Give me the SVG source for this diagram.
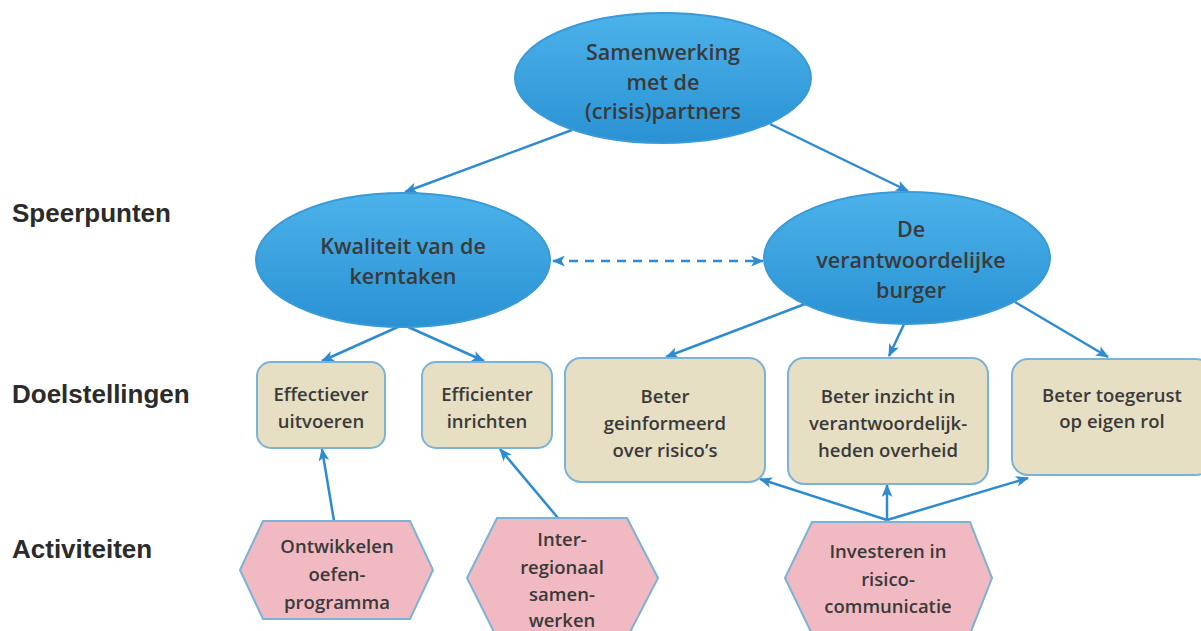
<svg xmlns="http://www.w3.org/2000/svg" width="1201" height="631" viewBox="0 0 1201 631">
  <defs>
    <linearGradient id="blueFill" x1="0" y1="0" x2="0" y2="1">
      <stop offset="0" stop-color="#4cb2ea"/>
      <stop offset="1" stop-color="#2a92d4"/>
    </linearGradient>
    <marker id="arr" viewBox="0 0 12 10" refX="11" refY="5" markerWidth="13" markerHeight="11" orient="auto-start-reverse" markerUnits="userSpaceOnUse">
      <path d="M0,0 L12,5 L0,10 L3,5 Z" fill="#2e8bd0"/>
    </marker>
    <style>
      .oval { fill: url(#blueFill); stroke: #3a9ad6; stroke-width: 2; }
      .goal { fill: #e7dfc4; stroke: #7ab3d6; stroke-width: 2; }
      .act { fill: #f1b9c2; stroke: #7ab3d6; stroke-width: 2; }
      .lbl { font-family: "Liberation Sans", Arial, sans-serif; font-weight: bold; font-size: 26px; fill: #2b2b2b; }
      .t { font-family: "Open Sans", "Liberation Sans", sans-serif; font-weight: 600; fill: #3a3a3a; text-anchor: middle; }
      .big { font-size: 21.5px; }
      .sm { font-size: 18.5px; }
      .conn { fill: none; stroke: #2e8bd0; stroke-width: 2.5; }
      .dash { stroke-dasharray: 9 7; }
    </style>
  </defs>

  <rect width="1201" height="631" fill="#ffffff"/>

  <!-- row labels -->
  <g id="labels">
    <text class="lbl" x="12" y="222">Speerpunten</text>
    <text class="lbl" x="12" y="403">Doelstellingen</text>
    <text class="lbl" x="12" y="558">Activiteiten</text>
  </g>

  <!-- connectors -->
  <g id="connectors">
    <line class="conn" x1="572" y1="130" x2="405" y2="192" marker-end="url(#arr)"/>
    <line class="conn" x1="770" y1="124" x2="908" y2="191" marker-end="url(#arr)"/>
    <line class="conn dash" x1="553" y1="261" x2="763" y2="261" marker-start="url(#arr)" marker-end="url(#arr)"/>
    <line class="conn" x1="400" y1="326" x2="322" y2="361" marker-end="url(#arr)"/>
    <line class="conn" x1="406" y1="326" x2="484" y2="361" marker-end="url(#arr)"/>
    <line class="conn" x1="805" y1="304" x2="666" y2="357" marker-end="url(#arr)"/>
    <line class="conn" x1="905" y1="322" x2="889" y2="356" marker-end="url(#arr)"/>
    <line class="conn" x1="1015" y1="302" x2="1108" y2="357" marker-end="url(#arr)"/>
    <line class="conn" x1="334" y1="521" x2="322" y2="449" marker-end="url(#arr)"/>
    <line class="conn" x1="558" y1="518" x2="500" y2="449" marker-end="url(#arr)"/>
    <line class="conn" x1="887" y1="520" x2="760" y2="479" marker-end="url(#arr)"/>
    <line class="conn" x1="887" y1="520" x2="887" y2="485" marker-end="url(#arr)"/>
    <line class="conn" x1="887" y1="520" x2="1028" y2="478" marker-end="url(#arr)"/>
  </g>

  <!-- focus points -->
  <g id="samenwerking">
    <ellipse class="oval" cx="663" cy="78" rx="148" ry="65"/>
    <text class="t big" x="663" y="60">Samenwerking</text>
    <text class="t big" x="663" y="90">met de</text>
    <text class="t big" x="663" y="119">(crisis)partners</text>
  </g>
  <g id="kwaliteit">
    <ellipse class="oval" cx="403" cy="260" rx="147" ry="67"/>
    <text class="t big" x="403" y="254">Kwaliteit van de</text>
    <text class="t big" x="403" y="284">kerntaken</text>
  </g>
  <g id="burger">
    <ellipse class="oval" cx="907" cy="258" rx="143" ry="66"/>
    <text class="t big" x="911" y="237">De</text>
    <text class="t big" x="911" y="268">verantwoordelijke</text>
    <text class="t big" x="911" y="298">burger</text>
  </g>

  <!-- goals -->
  <g id="effectiever">
    <rect class="goal" x="257" y="362" width="128" height="86" rx="14"/>
    <text class="t sm" x="321" y="401">Effectiever</text>
    <text class="t sm" x="321" y="428">uitvoeren</text>
  </g>
  <g id="efficienter">
    <rect class="goal" x="422" y="362" width="130" height="86" rx="14"/>
    <text class="t sm" x="487" y="401">Efficienter</text>
    <text class="t sm" x="487" y="428">inrichten</text>
  </g>
  <g id="geinformeerd">
    <rect class="goal" x="565" y="358" width="200" height="124" rx="16"/>
    <text class="t sm" x="665" y="403">Beter</text>
    <text class="t sm" x="665" y="430">geinformeerd</text>
    <text class="t sm" x="665" y="457">over risico’s</text>
  </g>
  <g id="inzicht">
    <rect class="goal" x="788" y="358" width="200" height="126" rx="16"/>
    <text class="t sm" x="888" y="403">Beter inzicht in</text>
    <text class="t sm" x="888" y="430">verantwoordelijk-</text>
    <text class="t sm" x="888" y="457">heden overheid</text>
  </g>
  <g id="toegerust">
    <rect class="goal" x="1012" y="359" width="200" height="116" rx="16"/>
    <text class="t sm" x="1112" y="402">Beter toegerust</text>
    <text class="t sm" x="1112" y="428">op eigen rol</text>
  </g>

  <!-- activities -->
  <g id="oefenprogramma">
    <polygon class="act" points="263,521 410,521 433,570 410,619 263,619 240,570"/>
    <text class="t sm" x="337" y="553">Ontwikkelen</text>
    <text class="t sm" x="337" y="581">oefen-</text>
    <text class="t sm" x="337" y="609">programma</text>
  </g>
  <g id="interregionaal">
    <polygon class="act" points="497,518 627,518 658,578 627,638 497,638 467,578"/>
    <text class="t sm" x="562" y="546">Inter-</text>
    <text class="t sm" x="562" y="574">regionaal</text>
    <text class="t sm" x="562" y="601">samen-</text>
    <text class="t sm" x="562" y="627">werken</text>
  </g>
  <g id="risicocommunicatie">
    <polygon class="act" points="812,522 970,522 992,578 970,634 812,634 785,578"/>
    <text class="t sm" x="888" y="558">Investeren in</text>
    <text class="t sm" x="888" y="586">risico-</text>
    <text class="t sm" x="888" y="613">communicatie</text>
  </g>
</svg>
